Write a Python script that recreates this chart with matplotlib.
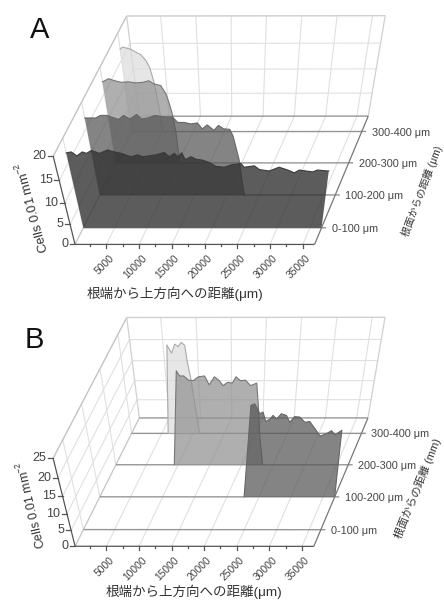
import numpy as np
import matplotlib
matplotlib.use("Agg")
import matplotlib.pyplot as plt

plt.rcParams['font.family'] = ['Liberation Sans', 'Noto Sans CJK JP', 'DejaVu Sans']
plt.rcParams['mathtext.default'] = 'regular'

X_MIN, X_MAX = 190, 36800
x_ticks = [5000, 10000, 15000, 20000, 25000, 30000, 35000]
x_minor = [2500, 7500, 12500, 17500, 22500, 27500, 32500]
row_labels = ['0-100 μm', '100-200 μm', '200-300 μm', '300-400 μm']
z_ticks_a = [0, 5, 10, 15, 20]
z_ticks_b = [0, 5, 10, 15, 20, 25]

# panel A, one array pair per depth row
a0_x = [190, 910, 1580, 2450, 2970, 3740, 4760, 5990, 6870, 7800, 9080, 10060, 10670, 12580, 13760,
        14380, 15150, 15560, 16170, 16590, 17410, 18080, 19000, 19930, 20850, 22030, 22960, 24350,
        24810, 26250, 26970, 28360, 29750, 30980, 31950, 32620, 33550, 34520, 35190, 36630, 36800]
a0_z = [17.0, 17.2, 16.4, 17.2, 16.9, 17.5, 16.9, 17.6, 17.2, 16.9, 16.2, 16.6, 16.2, 16.6, 17.1,
        16.2, 16.9, 16.2, 17.0, 15.6, 16.2, 15.7, 15.5, 15.0, 14.2, 14.0, 14.5, 14.8,
        14.0, 14.3, 13.5, 13.2, 14.0, 13.4, 12.8, 13.4, 13.2, 13.0, 13.4, 13.2, 13.2]
a1_x = [190, 1730, 2450, 3370, 4910, 5680, 6500, 7530, 8140, 9070, 10040, 11370, 12500, 13170, 14090,
        15020, 15940, 16600, 17320, 18250, 18900, 19630, 20500, 20970, 21840, 22450, 22700]
a1_z = [16.9, 16.9, 17.4, 17.4, 16.6, 17.4, 16.7, 17.6, 16.7, 16.9, 17.4, 17.1, 17.1, 16.0, 16.0,
        15.7, 15.9, 14.7, 15.5, 14.4, 15.4, 14.7, 14.6, 13.2, 8.2, 2.0, 0]
a2_x = [190, 500, 1120, 1990, 2870, 3800, 4930, 5860, 6780, 7450, 8380, 9000, 9360, 9720, 10030, 10230, 10300]
a2_z = [17.2, 17.4, 17.8, 17.4, 17.1, 17.2, 17.0, 17.1, 17.4, 16.8, 16.5, 15.0, 13.2, 10.8, 7.0, 0.8, 0]
a3_x = [190, 560, 1670, 2575, 3050, 3740, 4165, 4590, 4960, 5200]
a3_z = [17.0, 17.4, 17.0, 16.3, 16.0, 14.8, 13.5, 10.5, 5.6, 0]

# panel B, row 0 has no cells
b1_x = [22700, 23490, 24000, 24420, 24730, 25200, 25620, 26190, 26610, 27130, 27750, 28480, 29000, 29620,
        30350, 31130, 31800, 32640, 33520, 34400, 35030, 35600, 36480, 36800]
b1_z = [0, 24.6, 25.0, 23.8, 22.6, 23.0, 20.7, 21.3, 22.2, 21.3, 22.6, 22.2, 20.5, 21.9,
        21.8, 20.5, 20.7, 18.9, 17.0, 17.7, 18.4, 17.3, 18.5, 0]
b2_x = [9410, 10800, 11210, 11780, 12450, 13120, 13840, 14710, 15330, 16100, 16770, 17290, 17960, 18630,
        19140, 19760, 20480, 21200, 22080, 22390, 22750, 23310]
b2_z = [0, 24.5, 23.3, 23.3, 22.3, 22.2, 23.1, 23.3, 21.2, 23.1, 22.2, 21.0, 21.8, 21.6,
        23.1, 22.2, 22.3, 21.0, 21.6, 16.1, 8.0, 0]
b3_x = [6020, 6970, 7560, 8090, 8560, 9040, 9520, 9730, 10100, 10580, 11060]
b3_z = [0, 22.6, 20.7, 22.8, 22.2, 23.2, 22.5, 18.8, 14.8, 7.3, 0]

row_colors = ['#333333', '#555555', '#909090', '#dddddd']
row_alpha = [0.8, 0.72, 0.72, 0.72]
edge_colors = ['#3a3a3a', '#666666', '#777777', '#aaaaaa']

# (x, depth, z) -> pixel in the 3x zoomed picture, y measured from the panel top
calib_a = [
    (X_MIN, 0, 0, 225, 733), (X_MAX, 0, 0, 940, 733), (5000, 0, 0, 319, 733), (35000, 0, 0, 905, 733),
    (X_MIN, 4, 0, 418, 348), (X_MAX, 4, 0, 1097, 348), (X_MIN, 4, 20, 380, 47), (X_MAX, 4, 20, 1155, 47),
    (X_MIN, 0, 20, 160, 468), (X_MIN, 0, 5, 211, 674), (X_MIN, 0, 10, 194, 610), (X_MIN, 0, 15, 178, 543),
    (X_MIN, 0.5, 0, 250, 682), (X_MIN, 1.5, 0, 300, 585), (X_MIN, 2.5, 0, 345, 490), (X_MIN, 3.5, 0, 395, 395),
    (X_MAX, 0.5, 0, 962, 682), (X_MAX, 1.5, 0, 1015, 585), (X_MAX, 2.5, 0, 1055, 490), (X_MAX, 3.5, 0, 1085, 395),
]
calib_b = [
    (X_MIN, 0, 0, 225, 708), (X_MAX, 0, 0, 940, 708), (5000, 0, 0, 319, 708), (35000, 0, 0, 905, 708),
    (X_MIN, 4, 0, 418, 323), (X_MAX, 4, 0, 1097, 323), (X_MIN, 4, 25, 380, 22), (X_MAX, 4, 25, 1155, 22),
    (X_MIN, 0, 25, 160, 445), (X_MIN, 0, 5, 213, 660), (X_MIN, 0, 10, 200, 610), (X_MIN, 0, 15, 188, 560),
    (X_MIN, 0, 20, 174, 503),
    (X_MIN, 0.5, 0, 250, 660), (X_MIN, 1.5, 0, 300, 562), (X_MIN, 2.5, 0, 348, 465), (X_MIN, 3.5, 0, 395, 370),
    (X_MAX, 0.5, 0, 962, 660), (X_MAX, 1.5, 0, 1003, 562), (X_MAX, 2.5, 0, 1055, 465), (X_MAX, 3.5, 0, 1085, 370),
]


def fit_projection(calib, y_offset):
    A, b = [], []
    for x, d, z, u, v in calib:
        X, Z = x / 10000, z / 10
        u, v = u / 3, v / 3 + y_offset
        A.append([X, d, Z, 1, 0, 0, 0, 0, -u * X, -u * d, -u * Z])
        b.append(u)
        A.append([0, 0, 0, 0, X, d, Z, 1, -v * X, -v * d, -v * Z])
        b.append(v)
    p = np.linalg.lstsq(np.array(A), np.array(b), rcond=None)[0]
    return np.append(p, 1).reshape(3, 4)


def project(P, x, d, z):
    x, d, z = np.broadcast_arrays(np.asarray(x, float), np.asarray(d, float), np.asarray(z, float))
    q = np.stack([x / 10000, d, z / 10, np.ones_like(x)])
    uvw = P @ q.reshape(4, -1)
    return uvw[0] / uvw[2], uvw[1] / uvw[2]


def seg(ax, P, a, b, **kw):
    pa = project(P, *a)
    pb = project(P, *b)
    ax.plot([pa[0][0], pb[0][0]], [pa[1][0], pb[1][0]], solid_capstyle='butt', **kw)


def draw_panel(ax, P, z_ticks, series, letter, letter_xy, zlabel_xy, zlabel_rot, zlabel_size, xlabel_xy, dlabel_xy, dlabel, dlabel_rot, dlabel_size):
    zmax = z_ticks[-1]
    grid = dict(color='#e0e0e0', lw=0.8, zorder=1)
    for x in x_ticks:
        seg(ax, P, (x, 0, 0), (x, 4, 0), **grid)
        seg(ax, P, (x, 4, 0), (x, 4, zmax), **grid)
    for z in z_ticks[1:]:
        seg(ax, P, (X_MIN, 0, z), (X_MIN, 4, z), **grid)
        seg(ax, P, (X_MIN, 4, z), (X_MAX, 4, z), **grid)
    for d in [0.5, 1.5, 2.5, 3.5]:
        seg(ax, P, (X_MIN, d, 0), (X_MIN, d, zmax), **grid)
    seg(ax, P, (X_MIN, 0, zmax), (X_MIN, 4, zmax), color='#c4c4c4', lw=0.9, zorder=1)
    seg(ax, P, (X_MIN, 4, 0), (X_MIN, 4, zmax), color='#d0d0d0', lw=0.9, zorder=1)
    seg(ax, P, (X_MAX, 4, 0), (X_MAX, 4, zmax), color='#d0d0d0', lw=0.9, zorder=1)
    seg(ax, P, (X_MIN, 4, zmax), (X_MAX, 4, zmax), color='#d0d0d0', lw=0.9, zorder=1)
    seg(ax, P, (X_MIN, 0, 0), (X_MIN, 4, 0), color='#c4c4c4', lw=0.9, zorder=1)

    # row lines on the floor
    for i, d in enumerate([0.5, 1.5, 2.5, 3.5]):
        seg(ax, P, (X_MIN, d, 0), (X_MAX + 700, d, 0), color='#969696', lw=1.0, zorder=2)
        u, v = project(P, X_MAX, d, 0)
        ax.text(u[0] + 10, v[0] + 1, row_labels[i], fontsize=7.8, color='#444444', va='center', ha='left')
    seg(ax, P, (X_MIN, 4, 0), (X_MAX, 4, 0), color='#969696', lw=1.0, zorder=2)

    # cell density bands, back to front
    for row in sorted(series, reverse=True):
        xs, zs = series[row]
        d = row + 0.5
        top_u, top_v = project(P, xs, d, zs)
        base_u, base_v = project(P, [xs[-1], xs[0]], d, 0)
        ax.fill(np.r_[top_u, base_u], np.r_[top_v, base_v], color=row_colors[row], alpha=row_alpha[row], lw=0, zorder=3)
        ax.plot(top_u, top_v, color=edge_colors[row], lw=0.8, zorder=3)

    # axes
    axis = dict(color='#555555', lw=0.9, zorder=4)
    seg(ax, P, (X_MIN, 0, 0), (X_MAX, 0, 0), **axis)
    seg(ax, P, (X_MIN, 0, 0), (X_MIN, 0, zmax), **axis)
    seg(ax, P, (X_MAX, 0, 0), (X_MAX, 4, 0), color='#777777', lw=0.9, zorder=4)
    for x in x_ticks:
        u, v = project(P, x, 0, 0)
        ax.plot([u[0], u[0]], [v[0], v[0] + 3.5], **axis)
        ax.text(u[0] + 6, v[0] + 12, str(x), rotation=45, rotation_mode='anchor', ha='right', va='center',
                fontsize=7.4, color='#444444')
    for x in x_minor:
        u, v = project(P, x, 0, 0)
        ax.plot([u[0], u[0]], [v[0], v[0] + 2], **axis)
    for z in z_ticks:
        u, v = project(P, X_MIN, 0, z)
        ax.plot([u[0] - 5, u[0]], [v[0], v[0]], **axis)
        ax.text(u[0] - 6.5, v[0], str(z), ha='right', va='center', fontsize=9, color='#444444')

    ax.text(*letter_xy, letter, fontsize=21, ha='center', va='baseline', color='#111111')
    ax.text(*zlabel_xy, 'Cells 0.01 mm$^{-2}$', rotation=zlabel_rot, rotation_mode='anchor', ha='center', va='center',
            fontsize=zlabel_size, color='#333333')
    ax.text(*xlabel_xy, '根端から上方向への距離(μm)', ha='center', va='center', fontsize=9.7, color='#333333')
    ax.text(*dlabel_xy, dlabel, rotation=dlabel_rot, rotation_mode='anchor', ha='center', va='center',
            fontsize=dlabel_size, color='#333333')


fig = plt.figure(figsize=(4.44, 6.0), dpi=100)
ax = fig.add_axes([0, 0, 1, 1])
ax.set_xlim(0, 444)
ax.set_ylim(600, 0)
ax.axis('off')

P_a = fit_projection(calib_a, 0)
P_b = fit_projection(calib_b, 310)

draw_panel(ax, P_a, z_ticks_a, {0: (a0_x, a0_z), 1: (a1_x, a1_z), 2: (a2_x, a2_z), 3: (a3_x, a3_z)},
           'A', (40, 38), (32, 207), 105, 9.3, (175, 294), (422, 191), '根面からの距離 (μm)', 69, 7.4)
draw_panel(ax, P_b, z_ticks_b, {1: (b1_x, b1_z), 2: (b2_x, b2_z), 3: (b3_x, b3_z)},
           'B', (34, 348), (31, 505), 103, 8.8, (194, 592), (418, 488), '根面からの距離 (mm)', 68, 8.0)

fig.savefig("out.png", dpi=100)
